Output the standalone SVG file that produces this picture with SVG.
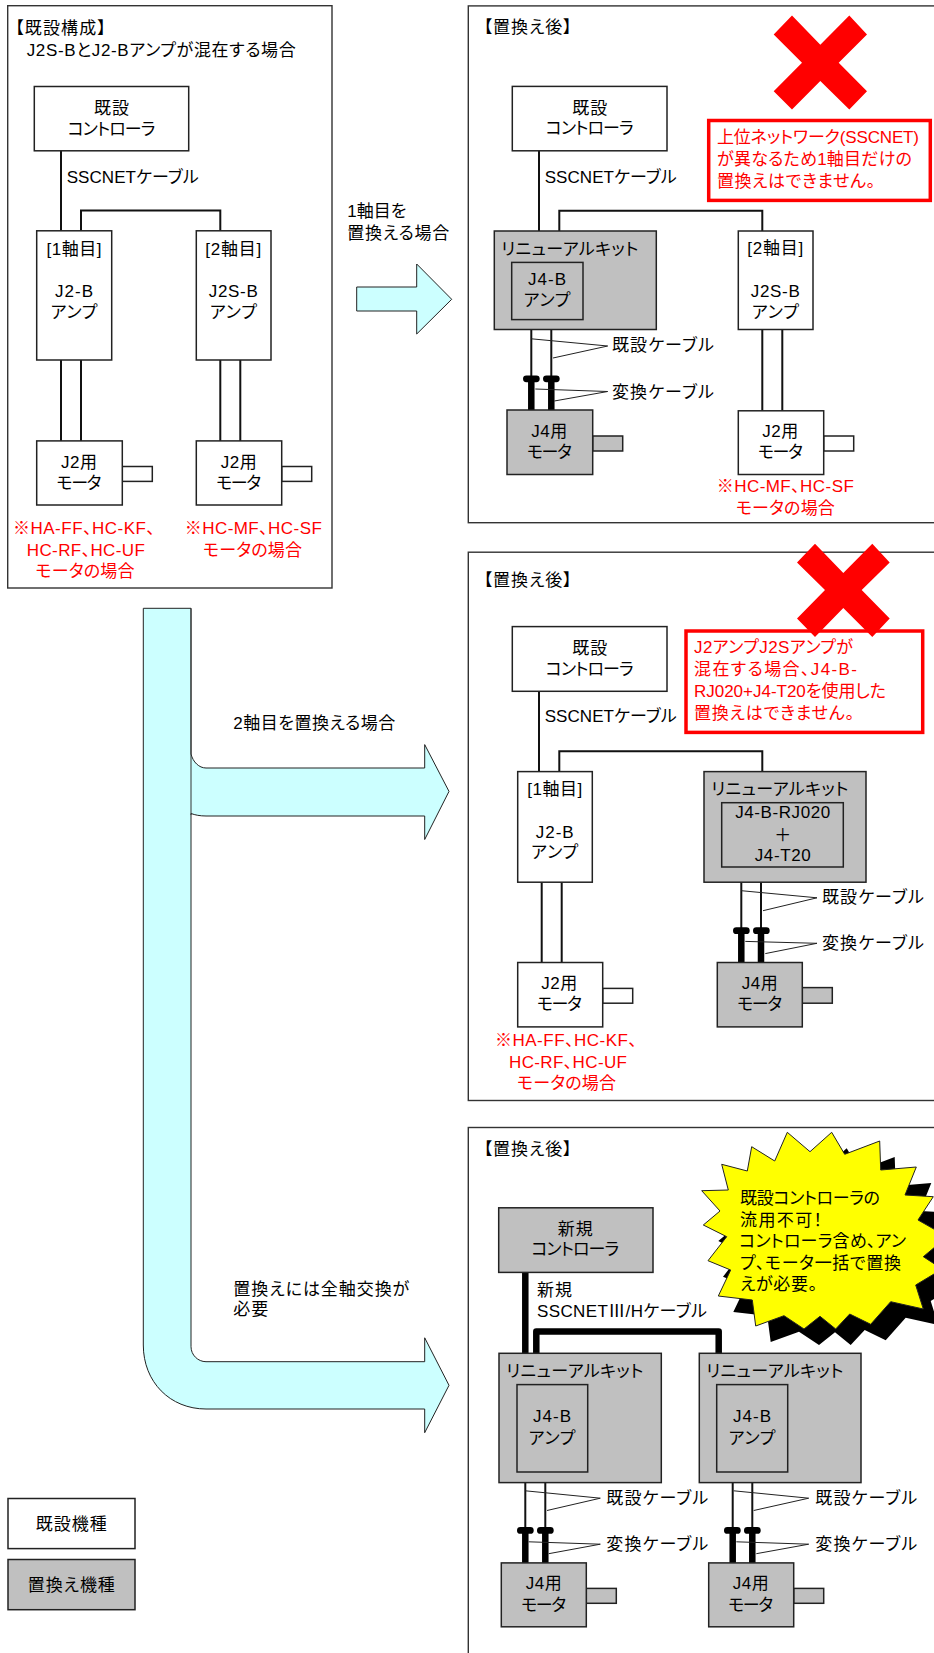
<svg xmlns="http://www.w3.org/2000/svg" width="934" height="1653" viewBox="0 0 934 1653">
<style>
text{font-family:"Liberation Sans","Noto Sans CJK JP",sans-serif;font-size:17px;fill:#000;font-feature-settings:"palt"}
.c{text-anchor:middle}
.r{fill:#f00}
.frame{fill:#fff;stroke:#333;stroke-width:1.4}
.w{fill:#fff;stroke:#222;stroke-width:1.5}
.g{fill:#c0c0c0;stroke:#222;stroke-width:1.5}
.note{fill:#fff;stroke:#f00;stroke-width:3.5}
.line{fill:none;stroke:#111;stroke-width:2}
.thin{fill:none;stroke:#222;stroke-width:1}
.thick{fill:none;stroke:#000;stroke-width:6.5;stroke-linejoin:round}
.cap{fill:#000}
.arrow{fill:#ccffff;stroke:#222;stroke-width:1}
.edge{fill:none;stroke:#333;stroke-width:1}
.x{fill:#f00}
</style>
<g id="frames">
<rect class="frame" x="7.7" y="5.7" width="324.3" height="582.3"/>
<rect class="frame" x="468.3" y="5.9" width="480" height="516.8"/>
<rect class="frame" x="468.3" y="552.2" width="480" height="548.3"/>
<rect class="frame" x="468.3" y="1127.5" width="480" height="540"/>
</g>
<g id="arrows">
<polygon class="arrow" points="356.7,287 416.7,287 416.7,264 451.7,299.3 416.7,334 416.7,311 356.7,311"/>
<path class="arrow" d="M143.3,608.3 H191 V754 C193,762 199,768 206,768 H424.7 V744.6 L449,791.4 L424.7,839.5 V816 H206 C200,816 195,815 191,813.5 V1346.7 C191,1355 198,1361.7 206,1361.7 H424.7 V1337.8 L449,1385.3 L424.7,1432.7 V1409 H206 C170,1409 143.3,1382 143.3,1345 Z"/>
<path class="edge" d="M191,608.3V815"/>
</g>
<g id="connectors">
<path class="line" d="M61,150.8V230.8M81,230.8V210.5H220.3V230.8M61,360V440.9M81,360V440.9M220.3,360V440.9M240.3,360V440.9"/>
<path class="line" d="M539,150.8V231M559.3,231V210.7H762.3V231M531.3,329.5V376M551.3,329.5V376M762.3,329.5V410.8M782.3,329.5V410.8"/>
<path class="thick" d="M531.3,378V410M551.3,378V410"/>
<rect class="cap" x="523" y="375.4" width="16.7" height="6.8" rx="3.4"/>
<rect class="cap" x="543" y="375.4" width="16.7" height="6.8" rx="3.4"/>
<path class="thin" d="M531.3,338.8L607.7,346L553,358M535.3,389L607.7,391.5L554.3,401"/>
<path class="line" d="M539,691.3V771.6M559.3,771.6V751.2H762.3V771.6M541.7,882.2V962.5M561.7,882.2V962.5M741.3,882.2V928M761,882.2V928"/>
<path class="thick" d="M741.3,930V962.5M761,930V962.5"/>
<rect class="cap" x="733" y="927.3" width="16.7" height="6.8" rx="3.4"/>
<rect class="cap" x="753" y="927.3" width="16.7" height="6.8" rx="3.4"/>
<path class="thin" d="M741.3,890.7L817,897.8L763,910.7M745.3,941.4L817,943.3L765.3,953.6"/>
<path class="thick" d="M525.3,1272.4V1353.3M536.3,1353.3V1331.6H718.7V1353.3"/>
<path class="line" d="M525.3,1482.6V1528M545.3,1482.6V1528M732.7,1482.6V1528M752.3,1482.6V1528"/>
<path class="thick" d="M525.3,1530V1562.9M545.3,1530V1562.9M732.7,1530V1562.9M752.3,1530V1562.9"/>
<rect class="cap" x="517" y="1527" width="16.7" height="6.8" rx="3.4"/>
<rect class="cap" x="537" y="1527" width="16.7" height="6.8" rx="3.4"/>
<rect class="cap" x="724" y="1527" width="16.7" height="6.8" rx="3.4"/>
<rect class="cap" x="744" y="1527" width="16.7" height="6.8" rx="3.4"/>
<path class="thin" d="M525.3,1490.8L600.3,1498.2L547,1510.5M528.7,1541.8L600.3,1544.2L548.7,1553.7M733.7,1490.8L808.7,1498.2L753.7,1510.5M736.3,1541.8L808.7,1544.2L756.3,1553.7"/>
</g>
<g id="left-panel">
<text x="15" y="33.7" textLength="91">【既設構成】</text>
<text x="26.7" y="55.5" textLength="269">J2S-BとJ2-Bアンプが混在する場合</text>
<text x="66.7" y="183" textLength="132">SSCNETケーブル</text>
<g id="l-controller"><rect class="w" x="34.3" y="86.5" width="154.4" height="64.3"/><text class="c" x="111.5" y="114" textLength="35">既設</text><text class="c" x="111.5" y="134.7" textLength="88">コントローラ</text></g>
<g id="l-amp1"><rect class="w" x="36.7" y="230.8" width="75" height="129.2"/><text class="c" x="74" y="254.5" textLength="55">[1軸目]</text><text class="c" x="74" y="297" textLength="38">J2-B</text><text class="c" x="74" y="318.4" textLength="47">アンプ</text></g>
<g id="l-amp2"><rect class="w" x="196.3" y="230.8" width="74.7" height="129.2"/><text class="c" x="233.3" y="254.5" textLength="56">[2軸目]</text><text class="c" x="233.3" y="297" textLength="49">J2S-B</text><text class="c" x="233.3" y="318.4" textLength="47">アンプ</text></g>
<g id="l-motor1"><rect class="w" x="122.3" y="466.5" width="30" height="14.9"/><rect class="w" x="36.7" y="440.9" width="85.6" height="64.1"/><text class="c" x="79" y="467.7" textLength="36">J2用</text><text class="c" x="79" y="488.7" textLength="45">モータ</text></g>
<g id="l-motor2"><rect class="w" x="281.7" y="466.5" width="30" height="14.9"/><rect class="w" x="196.3" y="440.9" width="85.4" height="64.1"/><text class="c" x="238.7" y="467.7" textLength="36">J2用</text><text class="c" x="238.7" y="488.7" textLength="45">モータ</text></g>
<text class="c r" x="84" y="533.9" textLength="142">※HA-FF、HC-KF、</text>
<text class="c r" x="85.8" y="555.7" textLength="118">HC-RF、HC-UF</text>
<text class="c r" x="85" y="576.7" textLength="99">モータの場合</text>
<text class="c r" x="253.3" y="533.9" textLength="137">※HC-MF、HC-SF</text>
<text class="c r" x="252.5" y="555.7" textLength="99">モータの場合</text>
</g>
<g id="branch-labels">
<text x="347.3" y="217.4" textLength="59">1軸目を</text>
<text x="347.3" y="239.2" textLength="102">置換える場合</text>
<text x="233.3" y="729" textLength="162">2軸目を置換える場合</text>
<text x="233.3" y="1295" textLength="176">置換えには全軸交換が</text>
<text x="233.3" y="1315.4" textLength="35">必要</text>
</g>
<g id="panel-a">
<text x="483.7" y="33.4" textLength="88">【置換え後】</text>
<text x="544.7" y="182.5" textLength="132">SSCNETケーブル</text>
<g id="a-controller"><rect class="w" x="512.3" y="86.4" width="154.7" height="64.4"/><text class="c" x="589.7" y="113.6" textLength="35">既設</text><text class="c" x="589.7" y="134.3" textLength="88">コントローラ</text></g>
<g id="a-kit"><rect class="g" x="494.3" y="231" width="162" height="98.5"/><text x="501.3" y="254.8" textLength="137">リニューアルキット</text><rect class="g" x="511.7" y="262.4" width="71.3" height="57.2"/><text class="c" x="547" y="285" textLength="38">J4-B</text><text class="c" x="547" y="305.8" textLength="47">アンプ</text></g>
<g id="a-amp2"><rect class="w" x="738.3" y="231" width="74.7" height="98.5"/><text class="c" x="775.3" y="254" textLength="56">[2軸目]</text><text class="c" x="775.3" y="296.8" textLength="49">J2S-B</text><text class="c" x="775.3" y="317.5" textLength="47">アンプ</text></g>
<text x="612" y="351" textLength="102">既設ケーブル</text>
<text x="612" y="397.7" textLength="102">変換ケーブル</text>
<g id="a-motor1"><rect class="g" x="592.7" y="436" width="30" height="15"/><rect class="g" x="507" y="410" width="85.7" height="64.5"/><text class="c" x="549.3" y="436.6" textLength="36">J4用</text><text class="c" x="549.3" y="458" textLength="45">モータ</text></g>
<g id="a-motor2"><rect class="w" x="823.7" y="436" width="30" height="15"/><rect class="w" x="738.3" y="410.8" width="85.4" height="63.7"/><text class="c" x="780.3" y="436.6" textLength="36">J2用</text><text class="c" x="780.3" y="458" textLength="45">モータ</text></g>
<text class="c r" x="785.3" y="492.4" textLength="137">※HC-MF、HC-SF</text>
<text class="c r" x="785.3" y="514" textLength="99">モータの場合</text>
<g id="a-note"><rect class="note" x="708.7" y="120.5" width="221.6" height="79.9"/>
<text class="r" x="717" y="143" textLength="202">上位ネットワーク(SSCNET)</text>
<text class="r" x="717" y="165" textLength="195">が異なるため1軸目だけの</text>
<text class="r" x="717" y="187" textLength="158">置換えはできません。</text></g>
<polygon id="a-cross" class="x" points="792,15.5 820.3,44.8 849.3,15.5 867,34.4 838.7,62.7 867,91.3 849.3,109.5 820.3,80.9 792,109.5 773.7,91.3 802,62.7 773.7,34.4"/>
</g>
<g id="panel-b">
<text x="483.7" y="586" textLength="88">【置換え後】</text>
<text x="544.7" y="722.4" textLength="132">SSCNETケーブル</text>
<g id="b-controller"><rect class="w" x="512.3" y="626.6" width="154.7" height="64.7"/><text class="c" x="589.7" y="653.6" textLength="35">既設</text><text class="c" x="589.7" y="675" textLength="88">コントローラ</text></g>
<g id="b-amp"><rect class="w" x="517.7" y="771.6" width="74.6" height="110.6"/><text class="c" x="554.7" y="794.5" textLength="55">[1軸目]</text><text class="c" x="554.7" y="837.8" textLength="38">J2-B</text><text class="c" x="554.7" y="858" textLength="47">アンプ</text></g>
<g id="b-kit"><rect class="g" x="704" y="771.6" width="162" height="110.6"/><text x="711.3" y="795" textLength="137">リニューアルキット</text><rect class="g" x="721.7" y="802.7" width="121.6" height="64.3"/><text class="c" x="782.7" y="818" textLength="95">J4-B-RJ020</text><text class="c" x="782.7" y="840.5">＋</text><text class="c" x="782.7" y="861" textLength="56">J4-T20</text></g>
<text x="822" y="903.3" textLength="102">既設ケーブル</text>
<text x="822" y="948.8" textLength="102">変換ケーブル</text>
<g id="b-motor1"><rect class="w" x="602.7" y="988.4" width="30" height="14.8"/><rect class="w" x="517.7" y="962.5" width="85" height="64.4"/><text class="c" x="559.3" y="988.8" textLength="36">J2用</text><text class="c" x="559.3" y="1009.8" textLength="45">モータ</text></g>
<g id="b-motor2"><rect class="g" x="802.3" y="987.6" width="30" height="15.6"/><rect class="g" x="717.3" y="962.5" width="85" height="64.4"/><text class="c" x="759.7" y="988.8" textLength="36">J4用</text><text class="c" x="759.7" y="1009.8" textLength="45">モータ</text></g>
<text class="c r" x="566" y="1045.7" textLength="142">※HA-FF、HC-KF、</text>
<text class="c r" x="568" y="1068" textLength="118">HC-RF、HC-UF</text>
<text class="c r" x="566.5" y="1088.6" textLength="99">モータの場合</text>
<g id="b-note"><rect class="note" x="686" y="631" width="236.7" height="101.4"/>
<text class="r" x="694" y="652.8" textLength="159">J2アンプJ2Sアンプが</text>
<text class="r" x="694" y="675" textLength="163">混在する場合、J4-B-</text>
<text class="r" x="694" y="697.2" textLength="192">RJ020+J4-T20を使用した</text>
<text class="r" x="694" y="718.7" textLength="160">置換えはできません。</text></g>
<polygon id="b-cross" class="x" points="815,543.7 843.3,573 872.3,543.7 889.7,562.6 861.7,590 889.7,618.5 872.3,637 843.3,608.1 815,637 797,618.5 825,590 797,562.6"/>
</g>
<g id="panel-c">
<text x="483.7" y="1154.7" textLength="88">【置換え後】</text>
<g id="c-controller"><rect class="g" x="498.7" y="1207.8" width="154.3" height="64.6"/><text class="c" x="575.3" y="1235" textLength="35">新規</text><text class="c" x="575.3" y="1255.4" textLength="88">コントローラ</text></g>
<text x="537" y="1296" textLength="35">新規</text>
<text x="537" y="1316.6" textLength="170">SSCNETⅢ/Hケーブル</text>
<g id="c-kit1"><rect class="g" x="499" y="1353.3" width="162.3" height="129.3"/><text x="506.3" y="1376.8" textLength="137">リニューアルキット</text><rect class="g" x="517" y="1384.6" width="70.7" height="87.4"/><text class="c" x="552" y="1422" textLength="38">J4-B</text><text class="c" x="552" y="1443.8" textLength="47">アンプ</text></g>
<g id="c-kit2"><rect class="g" x="699.3" y="1353.3" width="161.7" height="129.3"/><text x="706.3" y="1376.8" textLength="137">リニューアルキット</text><rect class="g" x="716.7" y="1384.6" width="71" height="87.4"/><text class="c" x="752" y="1422" textLength="38">J4-B</text><text class="c" x="752" y="1443.8" textLength="47">アンプ</text></g>
<text x="606.3" y="1503.7" textLength="102">既設ケーブル</text>
<text x="606.3" y="1549.6" textLength="102">変換ケーブル</text>
<text x="815.3" y="1503.7" textLength="102">既設ケーブル</text>
<text x="815.3" y="1549.6" textLength="102">変換ケーブル</text>
<g id="c-motor1"><rect class="g" x="586.3" y="1588.4" width="30" height="14.9"/><rect class="g" x="501.3" y="1562.9" width="85" height="63.9"/><text class="c" x="543.7" y="1589.4" textLength="36">J4用</text><text class="c" x="543.7" y="1610.5" textLength="45">モータ</text></g>
<g id="c-motor2"><rect class="g" x="793.7" y="1588.4" width="30" height="14.9"/><rect class="g" x="708.7" y="1562.9" width="85" height="63.9"/><text class="c" x="750.7" y="1589.4" textLength="36">J4用</text><text class="c" x="750.7" y="1610.5" textLength="45">モータ</text></g>
<g id="c-callout">
<polygon transform="translate(15 16)" fill="#000" points="787.3,1132.3 810,1151.7 831.7,1132.3 844.7,1154.3 879.7,1141 880.7,1170 916.3,1167 905,1195 933.3,1196.7 918,1220 947.3,1236.7 923.3,1256.7 942.3,1269 915.7,1285 923.3,1309 890.7,1301.7 870.7,1324.3 849.7,1314 835.7,1329 820,1316.3 804,1329 784,1315.7 755.7,1326 752.3,1300 718.3,1296 730.7,1270 708,1260.7 726.7,1236.7 703.3,1225 720,1211 701.7,1190.7 728.3,1190 721.7,1164.3 747.3,1171 751.7,1146.7 774.7,1161"/>
<polygon fill="#ff0" stroke="#222" stroke-width="1" points="787.3,1132.3 810,1151.7 831.7,1132.3 844.7,1154.3 879.7,1141 880.7,1170 916.3,1167 905,1195 933.3,1196.7 918,1220 947.3,1236.7 923.3,1256.7 942.3,1269 915.7,1285 923.3,1309 890.7,1301.7 870.7,1324.3 849.7,1314 835.7,1329 820,1316.3 804,1329 784,1315.7 755.7,1326 752.3,1300 718.3,1296 730.7,1270 708,1260.7 726.7,1236.7 703.3,1225 720,1211 701.7,1190.7 728.3,1190 721.7,1164.3 747.3,1171 751.7,1146.7 774.7,1161"/>
<text x="740" y="1204.3" textLength="140">既設コントローラの</text>
<text x="740" y="1226" textLength="82">流用不可！</text>
<text x="739" y="1247.3" textLength="167">コントローラ含め、アン</text>
<text x="740" y="1269" textLength="161">プ、モータ一括で置換</text>
<text x="740" y="1290.3" textLength="77">えが必要。</text>
</g>
</g>
<g id="legend">
<g id="legend-existing"><rect class="w" x="8" y="1498.5" width="127" height="50.1"/><text class="c" x="71.3" y="1530.3" textLength="71">既設機種</text></g>
<g id="legend-replace"><rect class="g" x="8" y="1559.5" width="127" height="50.2"/><text class="c" x="71.3" y="1591" textLength="87">置換え機種</text></g>
</g>
</svg>
